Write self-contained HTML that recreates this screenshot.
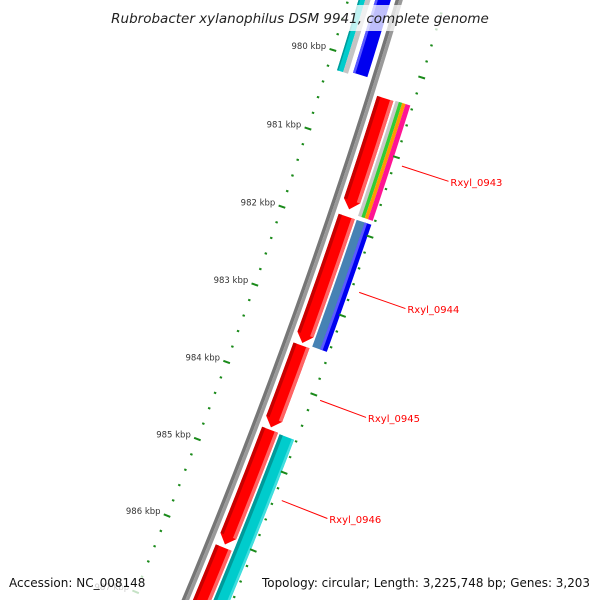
<!DOCTYPE html>
<html><head><meta charset="utf-8">
<style>
html,body{margin:0;padding:0;background:#fff;overflow:hidden;width:600px;height:600px;}
svg{display:block;font-family:"DejaVu Sans","Liberation Sans",sans-serif;}
</style></head>
<body>
<svg id="map" width="600" height="600" viewBox="0 0 600 600" xmlns="http://www.w3.org/2000/svg">
<g id="track"></g>
<g id="overlay"></g>
<rect x="106" y="5" width="388" height="26" fill="#fff" fill-opacity="0.75"/>
<text x="300" y="23" text-anchor="middle" font-size="13.5" font-style="italic" fill="#222">Rubrobacter xylanophilus DSM 9941, complete genome</text>
<rect x="4" y="572" width="146" height="28" fill="#fff" fill-opacity="0.75"/>
<text x="9" y="587" font-size="12" fill="#111">Accession: NC_008148</text>
<rect x="257" y="572" width="340" height="28" fill="#fff" fill-opacity="0.75"/>
<text x="590" y="587" text-anchor="end" font-size="12" fill="#111" textLength="328" lengthAdjust="spacingAndGlyphs">Topology: circular; Length: 3,225,748 bp; Genes: 3,203</text>
</svg>
<script>
// genome features (kbp)
const featStart = [979.2, 979.2, 979.2, 980.37, 981.86, 983.50, 984.58, 986.10, 980.36, 981.86, 981.86, 984.59];
const featEnd   = [980.19, 980.22, 980.22, 981.77, 983.47, 984.55, 986.06, 987.8, 981.81, 983.47, 983.47, 987.8];
const featRing  = ["inBlue","inCyan","inSilver","red","red","red","red","red","cog","steel","blue","cyan"];
const tickKbp = [980, 981, 982, 983, 984, 985, 986, 987];
const geneNames = ["Rxyl_0943", "Rxyl_0944", "Rxyl_0945", "Rxyl_0946"];
const geneMid = [981.08, 982.67, 984.04, 985.32];

const NS = "http://www.w3.org/2000/svg";
const S = 83.1, R = 5930, KREF = 983, PX = 301, PY = 301;
const TH0 = 19.6 * Math.PI / 180;
const CX = PX - R * Math.cos(TH0), CY = PY - R * Math.sin(TH0);
function pt(k, off) {
  const th = TH0 + (k - KREF) * S / R;
  return [CX + (R + off) * Math.cos(th), CY + (R + off) * Math.sin(th)];
}
const track = document.getElementById('track');
const overlay = document.getElementById('overlay');
function mk(tag, attrs, parent) { const e = document.createElementNS(NS, tag); for (const a in attrs) e.setAttribute(a, attrs[a]); parent.appendChild(e); return e; }

function bandPoints(k1, k2, o1, o2, arrow) {
  const a = 9 / S;
  const kEnd = arrow ? k2 - a : k2;
  const pts = [];
  const n = Math.max(2, Math.ceil((kEnd - k1) / 0.1));
  for (let i = 0; i <= n; i++) pts.push(pt(k1 + (kEnd - k1) * i / n, o2));
  if (arrow) pts.push(pt(k2, arrow));
  for (let i = n; i >= 0; i--) pts.push(pt(k1 + (kEnd - k1) * i / n, o1));
  return pts.map(p => p[0].toFixed(2) + ',' + p[1].toFixed(2)).join(' ');
}
function band(k1, k2, o1, o2, fill, name, inter, arrow) {
  const e = mk('polygon', {points: bandPoints(k1, k2, o1, o2, arrow), fill: fill}, track);
  
  
  return e;
}
// backbone
band(978.8, 988.5, -3.5, 0, "#767676", 'backbone', false);
band(978.8, 988.5, 0, 3.5, "#9a9a9a", 'backbone-highlight', false);

const ringDef = {
  inBlue: [-23, -8], inCyan: [-39, -32.6], inSilver: [-32.6, -27.5],
  red: [7, 24], steel: [26, 34.5], blue: [34.5, 41.5], cyan: [26, 41.5], cog: [26, 41.5]
};
for (let i = 0; i < featStart.length; i++) {
  const r = featRing[i], d = ringDef[r];
  const k1 = featStart[i], k2 = featEnd[i];
  if (r === "cog") {
    const st = [[26, 29.5, "#c8c8c8"], [29.5, 33, "#33cc33"], [33, 36.5, "#ff9900"], [36.5, 41.5, "#ff1493"]];
    st.forEach(s => band(k1, k2, s[0], s[1], s[2], 'cog-stripe', true));
  } else if (r === "red") {
    const m = (d[0] + d[1]) / 2;
    band(k1, k2, d[0], d[1], "#ff0000", 'gene-feature', true, m);
    band(k1, k2 - 9 / S, d[0], d[0] + 3.5, "#c80000", 'gene-shade', false);
    band(k1, k2 - 9 / S, d[1] - 3.5, d[1], "#ff6464", 'gene-shade', false);
  } else if (r === "blue" || r === "inBlue") {
    band(k1, k2, d[0], d[1], "#0000f0", 'gene-feature', true);
    band(k1, k2, d[0], d[0] + 2.5, "#5a5aff", 'gene-shade', false);
  } else if (r === "cyan" || r === "inCyan") {
    band(k1, k2, d[0], d[1], "#00cccc", 'gene-feature', true);
    band(k1, k2, d[0], d[0] + (r === "cyan" ? 3.5 : 1.5), "#009a9a", 'gene-shade', false);
    if (r === "cyan") band(k1, k2, d[1] - 2.5, d[1], "#40dede", 'gene-shade', false);
  } else if (r === "steel") {
    band(k1, k2, d[0], d[1], "#4682b4", 'gene-feature', true);
  } else {
    band(k1, k2, d[0], d[1], "#c4c4c4", 'gene-feature', true);
  }
}
// tick rings
for (let j = 0; j <= 45; j++) {
  const kk = Math.round((978.8 + j * 0.2) * 10) / 10;
  const major = Math.abs(kk - Math.round(kk)) < 0.01;
  [-49, 44].forEach(o => {
    const len = major ? 7 : 2.4;
    const a = pt(kk, o - len / 2), b = pt(kk, o + len / 2);
    const e = mk('line', {x1: a[0], y1: a[1], x2: b[0], y2: b[1], stroke: "#1a8a1a", 'stroke-width': 2}, track);
    
    
  });
}
tickKbp.forEach(k => {
  const p = pt(k, -56);
  const t = mk('text', {x: p[0], y: p[1] + 1, 'text-anchor': 'end', 'font-size': 8.5, fill: "#333"}, overlay);
  
  
  t.textContent = k + " kbp";
});
geneNames.forEach((g, i) => {
  const a = pt(geneMid[i], 52), b = pt(geneMid[i], 101), c = pt(geneMid[i], 103);
  const l = mk('line', {x1: a[0], y1: a[1], x2: b[0], y2: b[1], stroke: "#ff0000", 'stroke-width': 1}, overlay);
  
  
  const t = mk('text', {x: c[0], y: c[1] + 4, 'font-size': 10, fill: "#ff0000"}, overlay);
  
  
  t.textContent = g;
});
</script>
</body></html>
